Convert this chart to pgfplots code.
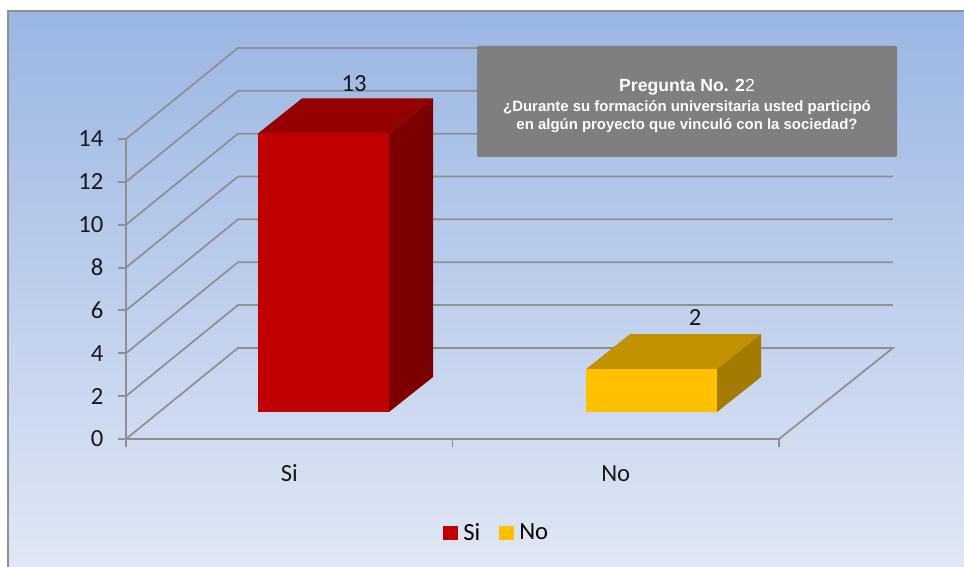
\documentclass[border=0pt]{standalone}
\usepackage{pgfplots}
\pgfplotsset{compat=1.18}
\usepackage{fontspec}
\setmainfont{Carlito}
\newfontfamily\boxfont{Liberation Sans}
\definecolor{gridgray}{HTML}{8F8F8F}
\definecolor{rojo}{HTML}{C00000}
\definecolor{rojotop}{HTML}{950000}
\definecolor{rojoside}{HTML}{7C0000}
\definecolor{amarillo}{HTML}{FFC000}
\definecolor{amarillotop}{HTML}{C19100}
\definecolor{amarilloside}{HTML}{A37B00}
\definecolor{cajagris}{HTML}{7F7F7F}

\begin{document}
\begin{tikzpicture}[x=0.75pt,y=0.75pt]
\useasboundingbox (0,0) rectangle (964,567);
% fondo
\fill[top color={rgb,255:red,154;green,182;blue,227}, bottom color={rgb,255:red,224;green,231;blue,244}, middle color={rgb,255:red,189;green,206;blue,236}]
  (8,0) rectangle (964,556);
\draw[color=gridgray, line width=1.6pt] (8,0) -- (8,556) -- (964,556);

\begin{axis}[
    at={(94.5pt,96pt)}, anchor=origin,
    scale only axis,
    width=489.75pt, height=225pt,
    xmin=0, xmax=2, ymin=0, ymax=14,
    clip=false,
    axis x line*=bottom, axis y line*=left,
    axis line style={gridgray, line width=1.4pt, -},
    tick style={gridgray, line width=1.4pt},
    tick align=outside, major tick length=6pt,
    xtick={0,1,2}, xticklabels={},
    extra x ticks={0.5,1.5},
    extra x tick labels={Si,No},
    extra x tick style={major tick length=0pt},
    ytick={0,2,...,14},
    tick label style={font=\fontsize{18.5}{20}\selectfont, text=black!90},
    /pgf/number format/assume math mode=true,
    y tick label style={xshift=-7.5pt},
    x tick label style={yshift=-16.5pt, text height=12pt},
    legend columns=2,
    legend style={
        at={(0.5680,-0.3133)}, anchor=center,
        draw=none, fill=none,
        font=\fontsize{18.5}{20}\selectfont,
        /tikz/every odd column/.append style={column sep=2pt},
        /tikz/every even column/.append style={column sep=12pt}
    },
    legend image code/.code={\fill[#1] (0pt,-5.6pt) rectangle (11.25pt,5.6pt);}
]
% paredes
\addplot[gridgray, line width=1.3pt, forget plot] coordinates {(0,0) (0.343,4.25) (2.349,4.25) (2,0)};
\addplot[gridgray, line width=1.3pt, forget plot] coordinates {(0,2) (0.343,6.25) (2.349,6.25)};
\addplot[gridgray, line width=1.3pt, forget plot] coordinates {(0,4) (0.343,8.25) (2.349,8.25)};
\addplot[gridgray, line width=1.3pt, forget plot] coordinates {(0,6) (0.343,10.25) (2.349,10.25)};
\addplot[gridgray, line width=1.3pt, forget plot] coordinates {(0,8) (0.343,12.25) (2.349,12.25)};
\addplot[gridgray, line width=1.3pt, forget plot] coordinates {(0,10) (0.343,14.25) (2.349,14.25)};
\addplot[gridgray, line width=1.3pt, forget plot] coordinates {(0,12) (0.343,16.25) (2.349,16.25)};
\addplot[gridgray, line width=1.3pt, forget plot] coordinates {(0,14) (0.343,18.25) (2.349,18.25)};

% Si = 13
\addplot[fill=rojotop, draw=none, forget plot] coordinates {(0.4043,14.26) (0.5391,15.893) (0.9403,15.893) (0.8055,14.26)} -- cycle;
\addplot[fill=rojoside, draw=none, forget plot] coordinates {(0.8055,1.26) (0.9403,2.893) (0.9403,15.893) (0.8055,14.26)} -- cycle;
\addplot[fill=rojo, draw=none] coordinates {(0.4043,1.26) (0.8055,1.26) (0.8055,14.26) (0.4043,14.26)} -- cycle;
\addlegendentry{Si}

% No = 2
\addplot[fill=amarillotop, draw=none, forget plot] coordinates {(1.4089,3.26) (1.5437,4.893) (1.9449,4.893) (1.8101,3.26)} -- cycle;
\addplot[fill=amarilloside, draw=none, forget plot] coordinates {(1.8101,1.26) (1.9449,2.893) (1.9449,4.893) (1.8101,3.26)} -- cycle;
\addplot[fill=amarillo, draw=none] coordinates {(1.4089,1.26) (1.8101,1.26) (1.8101,3.26) (1.4089,3.26)} -- cycle;
\addlegendentry{No}

\node[font=\fontsize{18.5}{20}\selectfont, text=black!90] at (axis cs:0.699,16.57) {13};
\node[font=\fontsize{18.5}{20}\selectfont, text=black!90] at (axis cs:1.743,5.65) {2};
\end{axis}

% caja del titulo
\fill[cajagris, rounded corners=1pt] (477,410) rectangle (897,521);
\node[inner sep=0pt, text=white, align=center, font=\boxfont] at (687,461)
  {{\fontsize{13.2}{15}\selectfont\bfseries Pregunta No. 2\mdseries 2}\\[3pt]
   {\fontsize{11.2}{13}\selectfont\bfseries ¿Durante su formación universitaria usted participó}\\[2pt]
   {\fontsize{11.2}{13}\selectfont\bfseries en algún proyecto que vinculó con la sociedad?}};
\end{tikzpicture}
\end{document}
